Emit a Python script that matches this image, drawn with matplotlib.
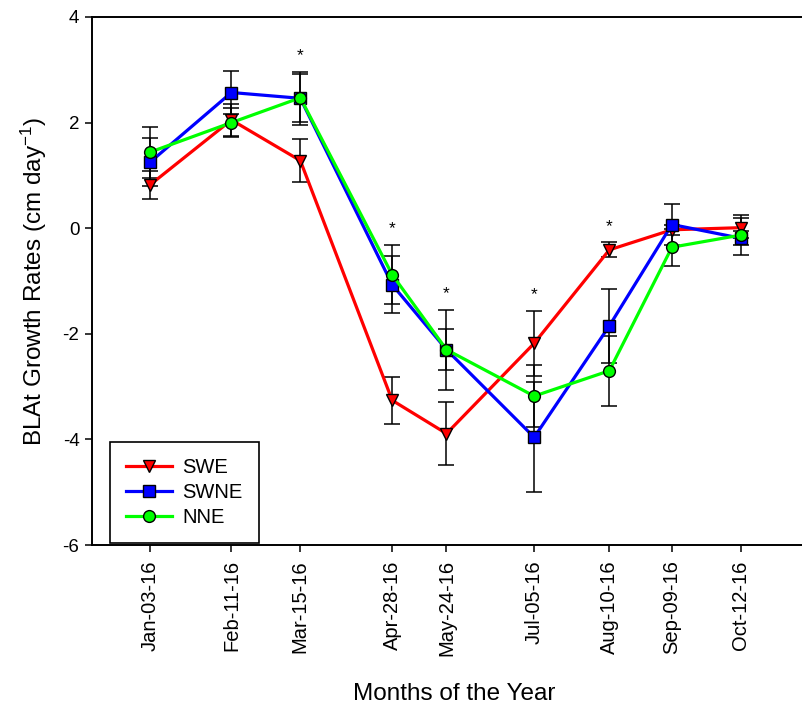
import numpy as np
import pandas as pd
import matplotlib
matplotlib.use("Agg")
import matplotlib.pyplot as plt
import matplotlib.dates as mdates

plt.rcParams["font.family"] = ["Liberation Sans", "DejaVu Sans"]
plt.rcParams["mathtext.default"] = "regular"
plt.rcParams["axes.unicode_minus"] = False

# sampling dates and mean growth rates (+/- SE) per site
dates = pd.to_datetime(["2016-01-03", "2016-02-11", "2016-03-15", "2016-04-28", "2016-05-24",
                        "2016-07-05", "2016-08-10", "2016-09-09", "2016-10-12"])
swe = [0.82, 2.05, 1.28, -3.26, -3.89, -2.18, -0.41, -0.03, 0.01]
swe_err = [0.27, 0.30, 0.41, 0.45, 0.59, 0.62, 0.14, 0.10, 0.19]
swne = [1.25, 2.57, 2.46, -1.07, -2.30, -3.96, -1.85, 0.07, -0.19]
swne_err = [0.45, 0.41, 0.50, 0.54, 0.76, 1.04, 0.70, 0.39, 0.13]
nne = [1.44, 2.00, 2.47, -0.88, -2.30, -3.18, -2.70, -0.36, -0.13]
nne_err = [0.48, 0.27, 0.45, 0.56, 0.39, 0.58, 0.66, 0.35, 0.38]
signif = [2, 3, 4, 5, 6]  # dates with a significant site difference

series = [
    ("SWE", swe, swe_err, "#ff0000", "v"),
    ("SWNE", swne, swne_err, "#0000ff", "s"),
    ("NNE", nne, nne_err, "#00ff00", "o"),
]

fig = plt.figure(figsize=(8.03, 7.07), dpi=100)
ax = fig.add_axes([92 / 803, 1 - 545 / 707, (816 - 92) / 803, 528 / 707])

for name, vals, err, color, mk in series:
    ax.errorbar(dates, vals, yerr=err, fmt="none", ecolor="black", elinewidth=1.1,
                capsize=5.5, capthick=1.1, zorder=3)
for name, vals, err, color, mk in series:
    ax.plot(dates, vals, color=color, lw=2.3, marker=mk, ms=8.5, mfc=color,
            mec="black", mew=1.0, label=name, zorder=4)

# asterisks above the highest error bar
tops = np.max([np.array(v) + np.array(e) for _, v, e, _, _ in series], axis=0)
for i in signif:
    ax.text(dates[i], tops[i] + 0.22, "*", ha="center", va="baseline", fontsize=12.5)

ax.set_ylim(-6, 4)
ax.set_yticks(np.arange(-6, 5, 2))
ax.set_xlim(pd.Timestamp("2015-12-06 05:00"), pd.Timestamp("2016-11-17"))
ax.set_xticks(dates)
ax.xaxis.set_major_formatter(mdates.DateFormatter("%b-%d-%y"))
ax.tick_params(axis="x", rotation=90, labelsize=14.5, length=5, width=1.1, pad=6)
ax.tick_params(axis="y", labelsize=13.5, length=5, width=1.1, pad=4)

for side in ["left", "bottom", "top"]:
    ax.spines[side].set_linewidth(1.4)
ax.spines["right"].set_visible(False)

ax.set_xlabel("Months of the Year", fontsize=17.5, labelpad=19)
ax.set_ylabel("BLAt Growth Rates (cm day$^{-1}$)", fontsize=17.5, labelpad=10)

leg = ax.legend(loc="lower left", bbox_to_anchor=(18 / 724, 2 / 528), borderaxespad=0,
                fontsize=14.5, frameon=True, fancybox=False, framealpha=1,
                edgecolor="black", handlelength=2.3, handletextpad=0.5,
                labelspacing=0.3, borderpad=0.8)
leg.get_frame().set_linewidth(1.2)

fig.savefig("out.png", dpi=100)
